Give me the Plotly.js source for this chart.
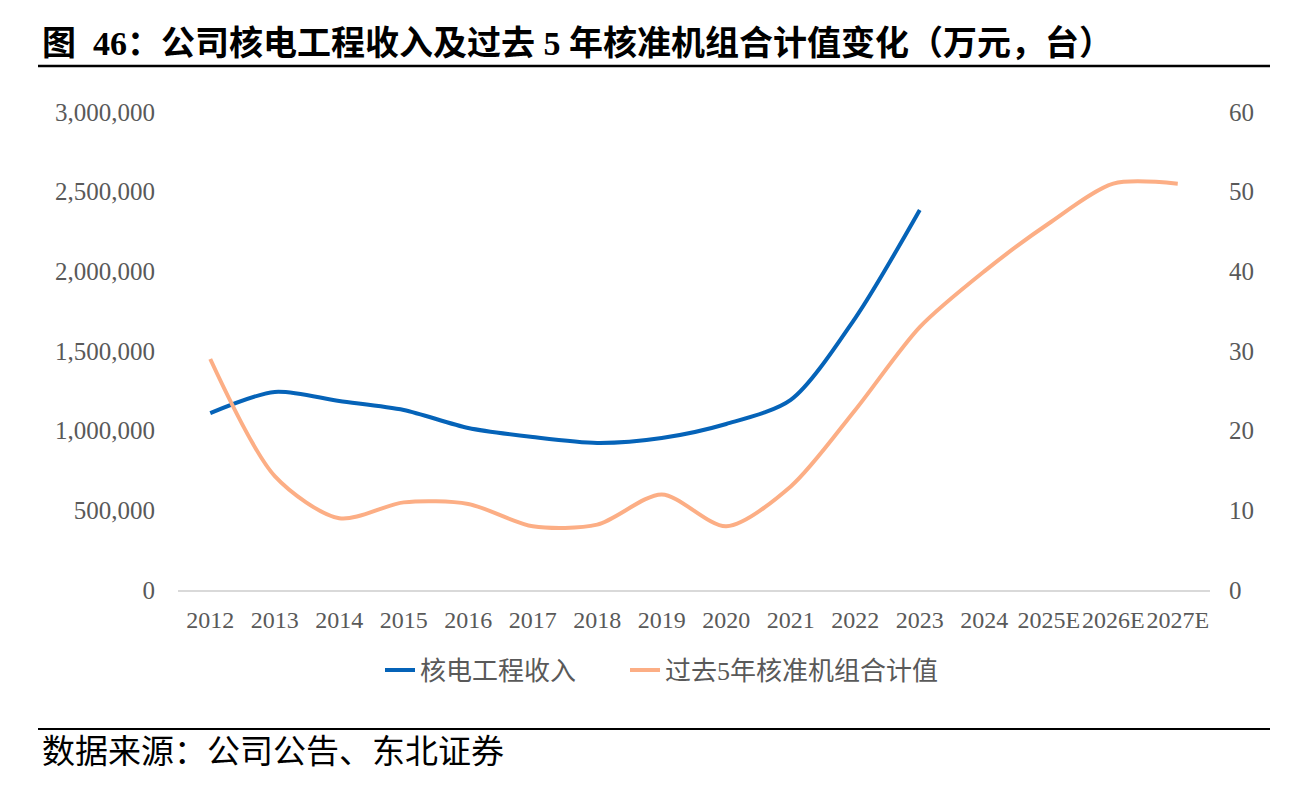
<!DOCTYPE html>
<html><head><meta charset="utf-8">
<script src="https://cdn.plot.ly/plotly-3.0.1.min.js"></script>
<style>html,body{margin:0;padding:0;background:#fff}#c{width:1311px;height:790px}</style>
</head><body><div id="c"></div>
<script>
const years = ["2012","2013","2014","2015","2016","2017","2018","2019","2020","2021","2022","2023","2024","2025E","2026E","2027E"];
const revenue = [1110000,1243000,1186000,1130000,1017000,960000,923000,954000,1042000,1193000,1707000,2385000];
const approvals = [29,14.3,9,11,10.8,8,8.2,12,8,13,22.6,33,40,46,51,51];
const revenueName = "核电工程收入";
const approvalsName = "过去5年核准机组合计值";
const titleText = "图  46：公司核电工程收入及过去 5 年核准机组合计值变化（万元，台）";
const sourceText = "数据来源：公司公告、东北证券";

const serif = '"Liberation Serif","Times New Roman","Noto Sans CJK SC",serif';
const cjk = '"Liberation Serif","Noto Sans CJK SC",serif';
const L=178, R=1210, T=112, B=590;
const px = v => (v-L)/(R-L);
const py = v => (B-v)/(B-T);

const traces = [
 {x: years.slice(0,revenue.length), y: revenue, name: revenueName, type:'scatter', mode:'lines',
  line:{color:'#0563B8', width:4, shape:'spline', smoothing:0.8}, yaxis:'y', legend:'legend'},
 {x: years, y: approvals, name: approvalsName, type:'scatter', mode:'lines',
  line:{color:'#FCAE85', width:4, shape:'spline', smoothing:0.8}, yaxis:'y2', legend:'legend2'}
];

const legFont = {family:cjk, size:26, color:'#595959'};
const layout = {
 width:1311, height:790, paper_bgcolor:'#fff', plot_bgcolor:'#fff',
 margin:{l:L, r:1311-R, t:T, b:790-B},
 showlegend:true,
 legend:{orientation:'h', x:px(380), xanchor:'left', y:py(670), yanchor:'middle', font:legFont},
 legend2:{orientation:'h', x:px(625), xanchor:'left', y:py(670), yanchor:'middle', font:legFont},
 xaxis:{type:'category', categoryorder:'array', categoryarray:years, range:[-0.5,15.5],
   showgrid:false, showline:true, linecolor:'#D9D9D9', linewidth:2, ticks:'', tickangle:0,
   tickfont:{family:serif, size:24, color:'#595959'}, ticklabelstandoff:7, fixedrange:true},
 yaxis:{range:[0,3000000], tickvals:[0,500000,1000000,1500000,2000000,2500000,3000000],
   ticktext:["0","500,000","1,000,000","1,500,000","2,000,000","2,500,000","3,000,000"],
   showgrid:false, zeroline:false, showline:false, ticks:'',
   tickfont:{family:serif, size:25, color:'#595959'}, ticklabelstandoff:22},
 yaxis2:{range:[0,60], tickvals:[0,10,20,30,40,50,60], overlaying:'y', side:'right',
   showgrid:false, zeroline:false, showline:false, ticks:'',
   tickfont:{family:serif, size:25, color:'#595959'}, ticklabelstandoff:18},
 shapes:[
  {type:'line', xref:'paper', yref:'paper', x0:px(38), x1:px(1270), y0:py(66), y1:py(66), line:{color:'#000', width:2.5}},
  {type:'line', xref:'paper', yref:'paper', x0:px(38), x1:px(1270), y0:py(729), y1:py(729), line:{color:'#000', width:2}}
 ],
 annotations:[
  {xref:'paper', yref:'paper', x:px(40), y:py(44), xanchor:'left', yanchor:'middle', showarrow:false,
   text:'<b>'+titleText+'</b>', font:{family:cjk, size:34, color:'#000'}},
  {xref:'paper', yref:'paper', x:px(40), y:py(752), xanchor:'left', yanchor:'middle', showarrow:false,
   text:sourceText, font:{family:cjk, size:33, color:'#000'}}
 ]
};
Plotly.newPlot('c', traces, layout, {staticPlot:true, displayModeBar:false});
</script></body></html>
